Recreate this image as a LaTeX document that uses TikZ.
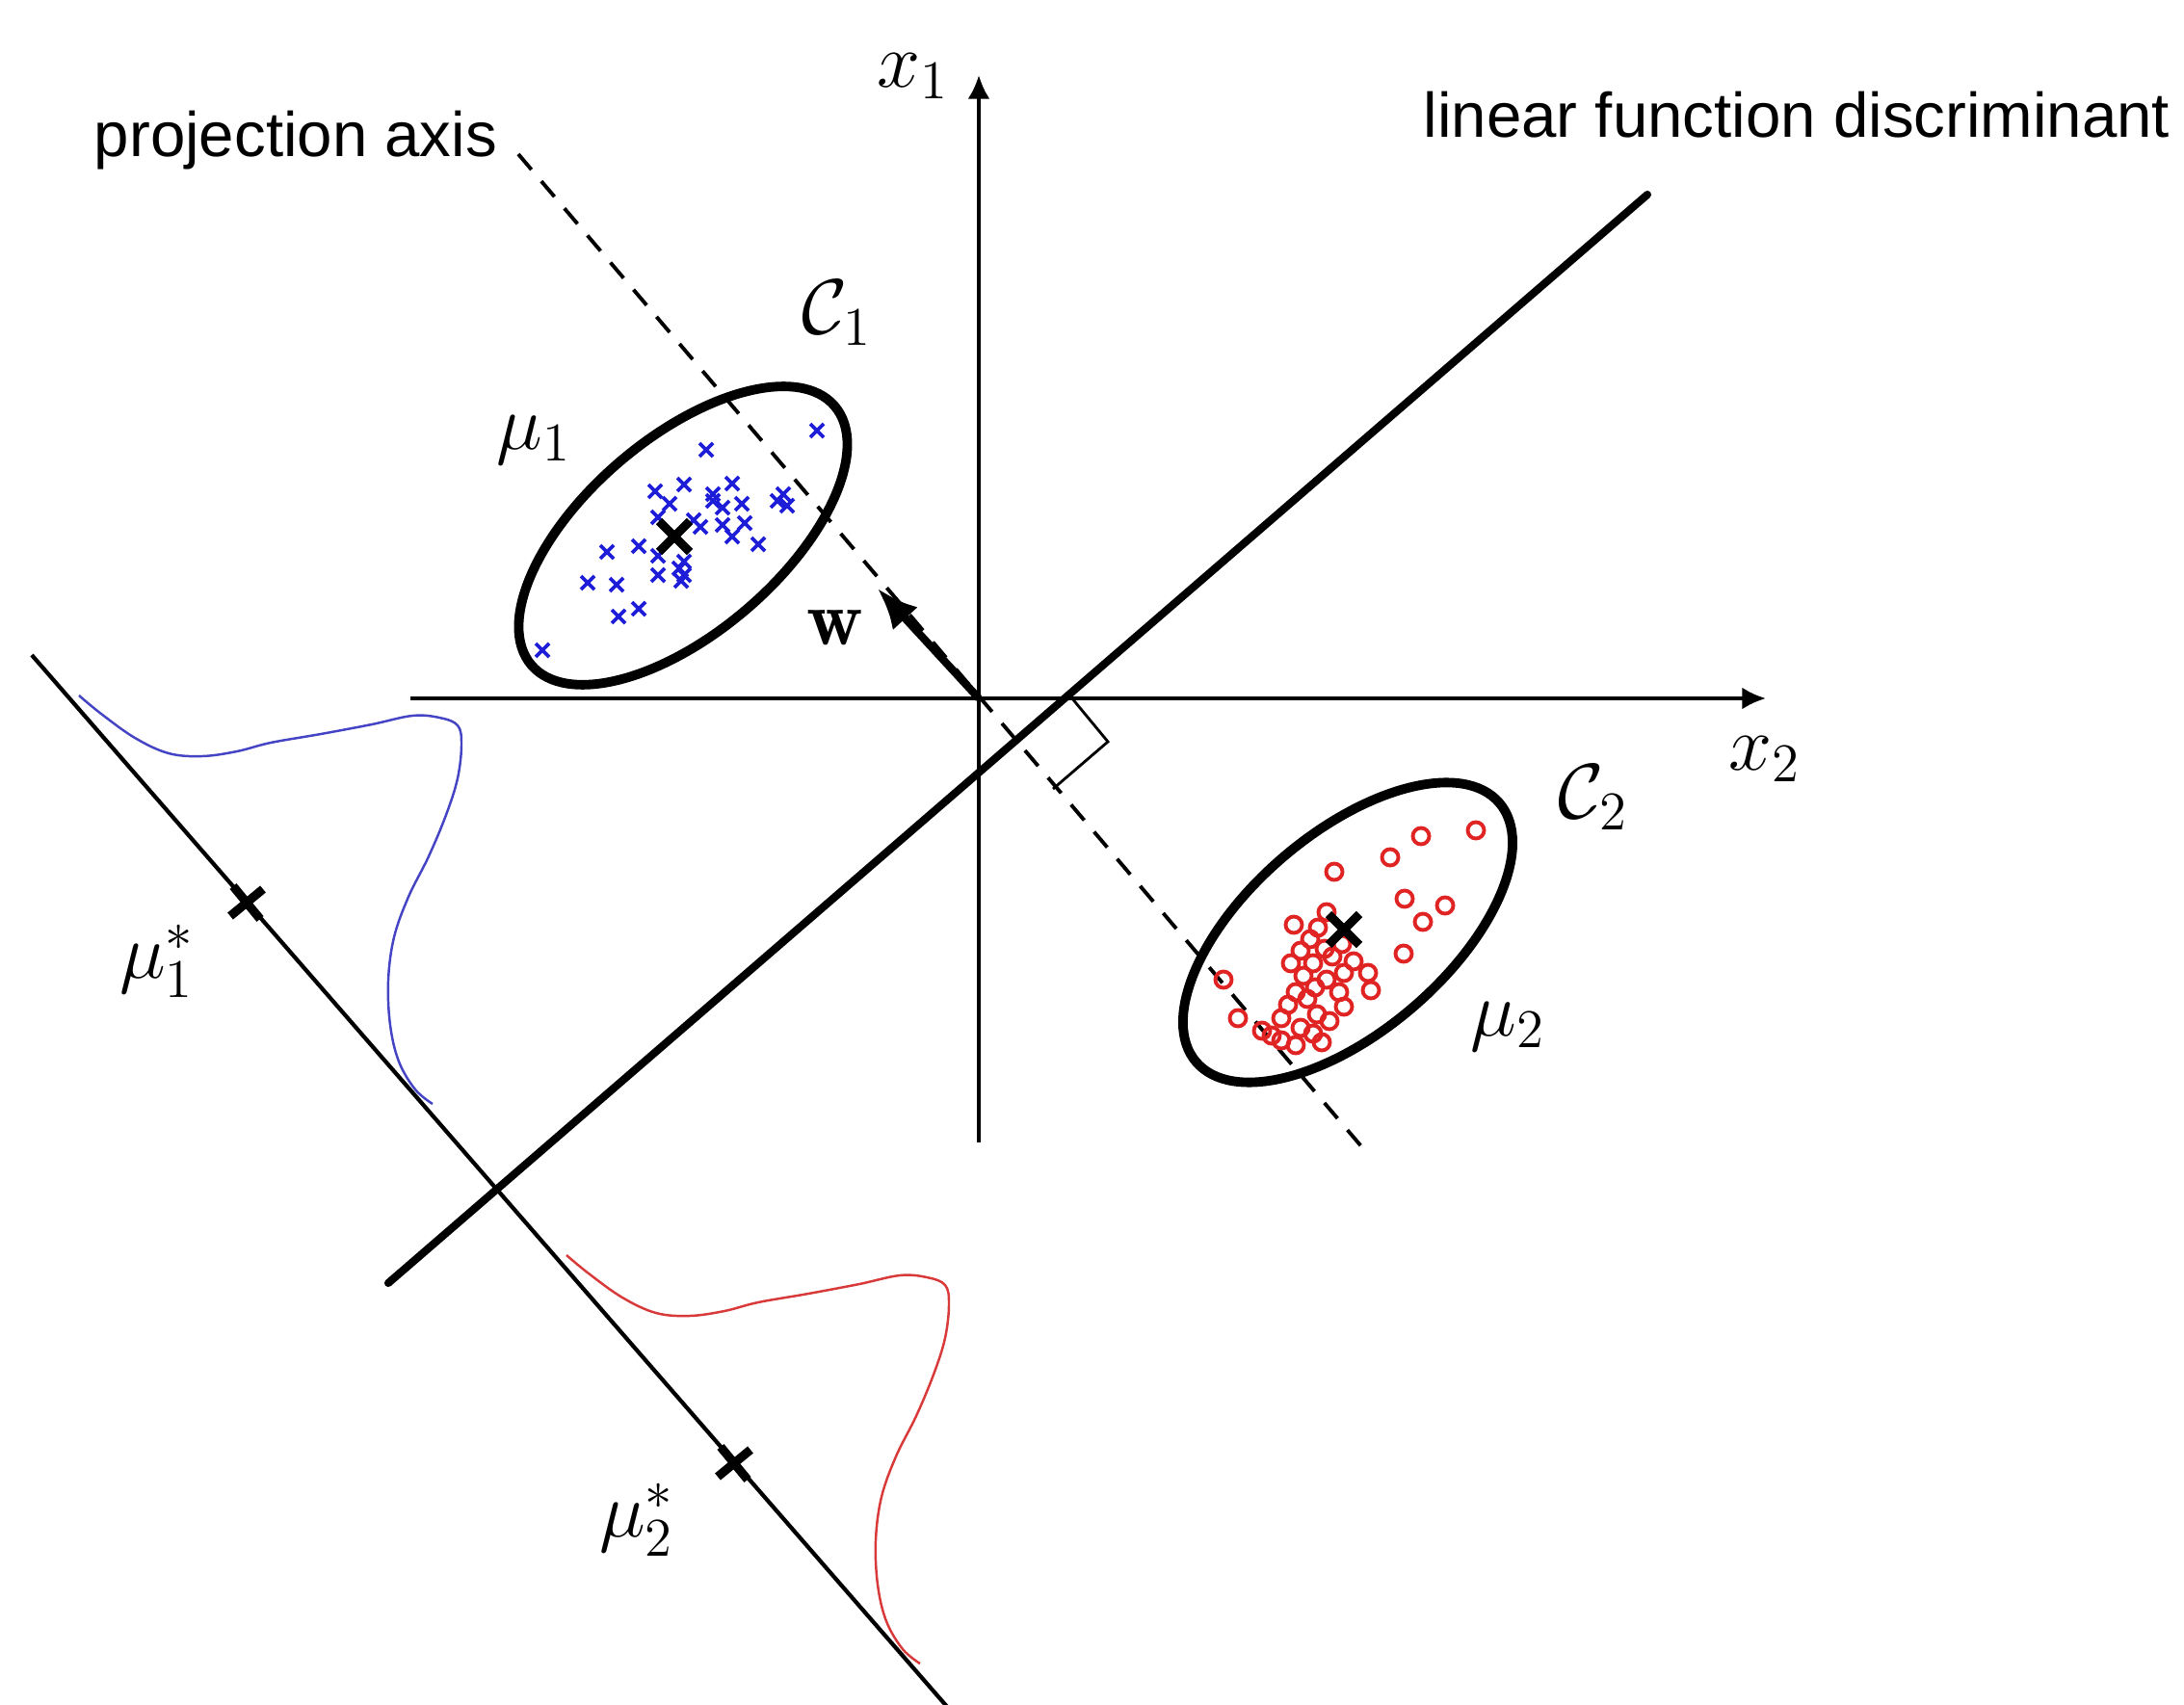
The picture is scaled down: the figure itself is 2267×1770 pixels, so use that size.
\documentclass[tikz,border=0pt]{standalone}
\usepackage{fix-cm}
\usepackage{fontspec}
\setsansfont{Liberation Sans}
\usepackage{tikz}
\usetikzlibrary{arrows.meta}
\definecolor{ptblue}{HTML}{1E1ED8}
\definecolor{ptred}{HTML}{E02424}
\definecolor{densblue}{HTML}{4444C4}
\definecolor{densred}{HTML}{D83A3A}

\begin{document}
\begin{tikzpicture}[x=0.01cm,y=-0.01cm,
  axis/.style={line width=1.1pt,-{Latex[length=7pt,width=6.5pt]}},
  discr/.style={line width=2.3pt,line cap=round},
  projaxis/.style={line width=1.1pt,dash pattern=on 6pt off 4.5pt},
  projline/.style={line width=1.2pt},
  classell/.style={line width=2.8pt},
  meanx/.style={line width=2.6pt},
  ptx/.style={ptblue,line width=1.1pt},
  pto/.style={ptred,line width=1.1pt},
  dens/.style={line width=0.7pt},
  warrow/.style={line width=2.3pt,-{Latex[length=12pt,width=10pt]}},
  mathlbl/.style={font=\fontsize{23}{27}\selectfont,inner sep=0pt},
  txtlbl/.style={font=\sffamily\fontsize{18.6}{22}\selectfont,inner sep=0pt}
]
  \useasboundingbox (0,0) rectangle (2267,1770);

  % key points
  \coordinate (O) at (1016,725);
  \coordinate (x1tip) at (1016,78);
  \coordinate (x1foot) at (1016,1186);
  \coordinate (x2tail) at (426,725);
  \coordinate (x2tip) at (1833,725);
  \coordinate (dlo) at (403,1332);
  \coordinate (dhi) at (1710,202);
  \coordinate (pahi) at (538,160);
  \coordinate (palo) at (1413,1190);
  \coordinate (plhi) at (33,680);
  \coordinate (pllo) at (985,1774);
  \coordinate (wtip) at (911,611);
  \coordinate (c1) at (709,556);
  \coordinate (c2) at (1399,968);
  \coordinate (m1) at (700,557);
  \coordinate (m2) at (1395,965);
  \coordinate (m1s) at (256,937);
  \coordinate (m2s) at (762,1519);
  \coordinate (ra1) at (1112,724);
  \coordinate (ra2) at (1150,770);
  \coordinate (ra3) at (1093,819);

  % axes, discriminant, projection
  \draw[axis] (x2tail) -- (x2tip);
  \draw[axis] (x1foot) -- (x1tip);
  \draw[discr] (dlo) -- (dhi);
  \draw[projaxis] (pahi) -- (palo);
  \draw[projline] (plhi) -- (pllo);
  \draw[line width=0.8pt] (ra1) -- (ra2) -- (ra3);

  % classes
  \draw[classell,rotate around={40.5:(c1)}] (c1) ellipse (207 and 101);
  \draw[classell,rotate around={40.5:(c2)}] (c2) ellipse (207 and 103);

  \foreach \px/\py in {848/447,733/467,680/510,710/503,740/513,760/502,770/523,
      813/513,817/525,695/523,683/537,727/547,773/543,760/557,787/565,663/567,
      630/573,683/577,710/583,683/597,710/597,610/605,640/607,663/632,642/640,
      563/675,707/603,740/520,750/527,807/520,720/540,705/590,750/545}
    \draw[ptx] (\px,\py) +(-7,-7) -- +(7,7) +(-7,7) -- +(7,-7);

  \foreach \px/\py in {1532/862,1475/868,1443/890,1385/905,1458/933,1500/940,
      1477/957,1457/990,1343/960,1368/963,1377/947,1350/987,1363/1000,1383/993,
      1405/998,1353/1013,1377/1017,1420/1010,1423/1028,1270/1017,1285/1057,
      1320/1075,1337/1043,1357/1037,1367/1053,1350/1067,1380/1060,1363/1073,
      1330/1057,1393/980,1345/1030,1365/1025,1390/1030,1340/1000,1375/985,
      1395/1045,1310/1070,1345/1085,1372/1082,1330/1080,1395/1010,1360/975}
    \draw[pto] (\px,\py) circle[radius=0.85mm];

  \draw[meanx] (m1) +(-16,-16) -- +(16,16) +(-16,16) -- +(16,-16);
  \draw[meanx] (m2) +(-16,-16) -- +(16,16) +(-16,16) -- +(16,-16);

  % projected densities
  \foreach \dcol/\dx/\dy in {densblue/0/0,densred/506/581}
    \draw[dens,\dcol,shift={(\dx,\dy)}] plot[smooth,tension=0.6] coordinates {
      (82,722) (105,741) (140,766) (175,782) (210,785) (246,780) (281,771)
      (333,762) (386,752) (428,743) (456,745) (475,753) (479,773) (475,808)
      (463,846) (445,889) (424,931) (409,973) (403,1018) (405,1064)
      (414,1102) (431,1131) (449,1146)};

  \draw[meanx] (m1s) +(-14,-17) -- +(14,17) +(-17,14) -- +(17,-14);
  \draw[meanx] (m2s) +(-14,-17) -- +(14,17) +(-17,14) -- +(17,-14);

  \draw[warrow] (O) -- (wtip);

  % labels
  \node[mathlbl] (lx1) at (948,79) {$x_1$};
  \node[mathlbl] (lx2) at (1832,788) {$x_2$};
  \node[mathlbl] (lc1) at (869,325) {$\mathcal{C}_1$};
  \node[mathlbl] (lc2) at (1654,828) {$\mathcal{C}_2$};
  \node[mathlbl] (lmu1) at (554,457) {$\mu_1$};
  \node[mathlbl] (lmu2) at (1565,1066) {$\mu_2$};
  \node[mathlbl] (lw) at (867,652) {$\mathbf{w}$};
  \node[mathlbl] (lmu1s) at (163,998) {$\mu_1^*$};
  \node[mathlbl] (lmu2s) at (661,1578) {$\mu_2^*$};
  \node[txtlbl,anchor=base] (lproj) at (307,163) {projection axis};
  \node[txtlbl,anchor=base] (ldisc) at (1865,143) {linear function discriminant};
\end{tikzpicture}
\end{document}
